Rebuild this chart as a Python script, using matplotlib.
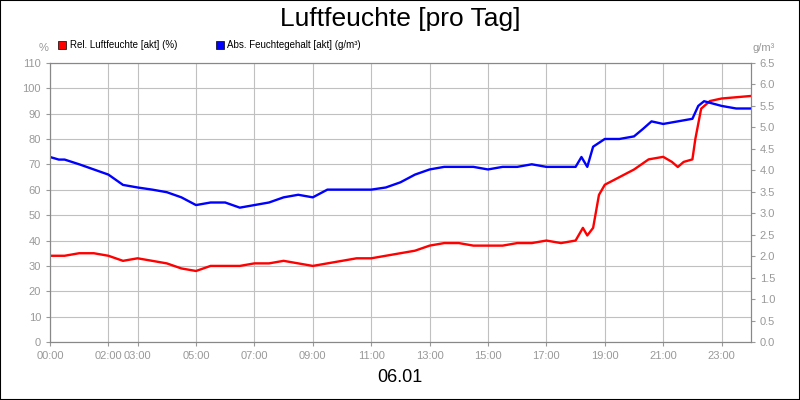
import matplotlib
matplotlib.use("Agg")
import matplotlib.pyplot as plt
from matplotlib.patches import Rectangle
plt.rcParams['font.family'] = 'Liberation Sans'

hours_rel = [0,0.5,1,1.5,2,2.5,3,3.5,4,4.5,5,5.5,6,6.5,7,7.5,8,8.5,9,9.5,10,10.5,11,11.5,12,12.5,13,13.5,14,14.5,15,15.5,16,16.5,17,17.5,18,18.25,18.4,18.6,18.8,19,19.5,20,20.5,21,21.3,21.5,21.7,22,22.1,22.3,22.6,23,24]
rel = [34,34,35,35,34,32,33,32,31,29,28,30,30,30,31,31,32,31,30,31,32,33,33,34,35,36,38,39,39,38,38,38,39,39,40,39,40,45,42,45,58,62,65,68,72,73,71,69,71,72,80,92,95,96,97]
hours_abs = [0,0.3,0.5,1,1.5,2,2.5,3,3.5,4,4.5,5,5.5,6,6.5,7,7.5,8,8.5,9,9.5,10,10.5,11,11.5,12,12.5,13,13.5,14,14.5,15,15.5,16,16.5,17,17.5,18,18.2,18.4,18.6,19,19.5,20,20.3,20.6,21,21.5,22,22.2,22.4,23,23.5,24]
absf = [4.31,4.25,4.25,4.14,4.02,3.90,3.66,3.60,3.55,3.49,3.37,3.19,3.25,3.25,3.13,3.19,3.25,3.37,3.43,3.37,3.55,3.55,3.55,3.55,3.60,3.72,3.90,4.02,4.08,4.08,4.08,4.02,4.08,4.08,4.14,4.08,4.08,4.08,4.31,4.08,4.55,4.73,4.73,4.79,4.96,5.14,5.08,5.14,5.20,5.50,5.61,5.50,5.44,5.44]
xticks = [0,2,3,5,7,9,11,13,15,17,19,21,23]
xlabels = ["00:00","02:00","03:00","05:00","07:00","09:00","11:00","13:00","15:00","17:00","19:00","21:00","23:00"]

fig = plt.figure(figsize=(8,4), dpi=100)
fig.patches.append(Rectangle((0,0),1,1,transform=fig.transFigure,fill=False,ec='black',lw=1.5))
ax = fig.add_axes([0.0625,0.145,0.876,0.6975])
ax.plot(hours_rel, rel, color='red', lw=1.7)
ax.set_xlim(0,24); ax.set_ylim(0,110)
ax.set_yticks(range(0,111,10))
ax.set_xticks(xticks); ax.set_xticklabels(xlabels)
ax.grid(True, color='#c0c0c0', lw=0.8)
ax.tick_params(colors='#999999', labelsize=8, length=3)
for s in ax.spines.values(): s.set_color('#888888')
ax2 = ax.twinx()
ax2.plot(hours_abs, absf, color='blue', lw=1.7)
ax2.set_ylim(0,6.5)
ax2.set_yticks([i*0.5 for i in range(14)])
ax2.set_yticklabels([f"{i*0.5:.1f}" for i in range(14)])
ax2.tick_params(colors='#999999', labelsize=8, length=3)
for s in ax2.spines.values(): s.set_color('#888888')
fig.text(0.5,0.953,"Luftfeuchte [pro Tag]",ha='center',va='center',fontsize=19)
fig.text(0.5,0.055,"06.01",ha='center',va='center',fontsize=13)
fig.text(0.054,0.88,"%",ha='center',va='center',fontsize=8,color='#999999')
fig.text(0.955,0.88,"g/m³",ha='center',va='center',fontsize=8,color='#999999')
fig.patches.append(Rectangle((0.073,0.878),0.01,0.02,transform=fig.transFigure,fc='red',ec='black',lw=0.5))
fig.text(0.087,0.888,"Rel. Luftfeuchte [akt] (%)",va='center',fontsize=7)
fig.patches.append(Rectangle((0.27,0.878),0.01,0.02,transform=fig.transFigure,fc='blue',ec='black',lw=0.5))
fig.text(0.284,0.888,"Abs. Feuchtegehalt [akt] (g/m³)",va='center',fontsize=7)
fig.savefig("out.png", dpi=100)
